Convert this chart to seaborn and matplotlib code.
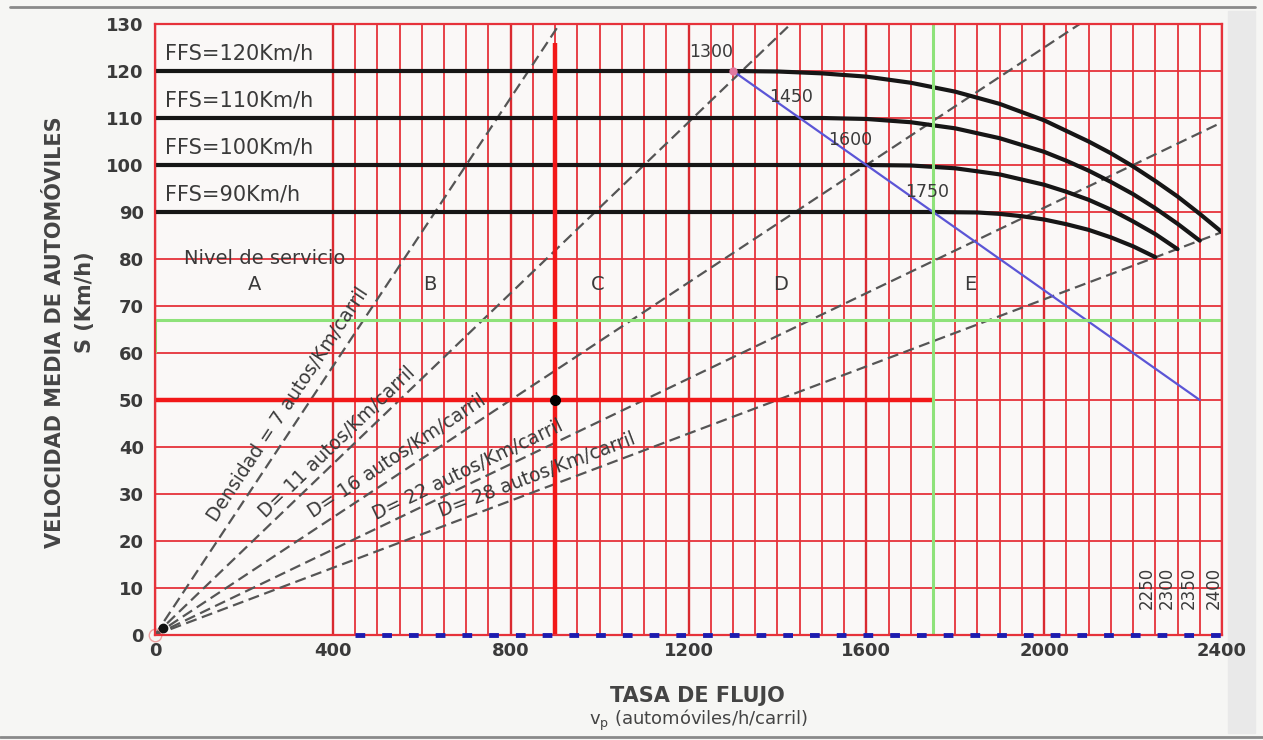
import numpy as np
import pandas as pd
import seaborn as sns
import matplotlib.pyplot as plt

# speed-flow curves (flow: autos/h/carril, speed: km/h)
flow_120 = [0, 1300, 1400, 1500, 1600, 1700, 1800, 1900, 2000, 2100, 2150, 2200, 2250, 2300, 2350, 2400]
speed_120 = [120, 120, 119.9, 119.5, 118.8, 117.5, 115.6, 113, 109.5, 105, 102.5, 99.7, 96.6, 93.3, 89.6, 85.7]
flow_110 = [0, 1450, 1500, 1600, 1700, 1800, 1900, 2000, 2050, 2100, 2150, 2200, 2250, 2300, 2350]
speed_110 = [110, 110, 110, 109.8, 109.1, 107.8, 105.7, 102.8, 100.9, 98.8, 96.4, 93.8, 90.8, 87.5, 83.9]
flow_100 = [0, 1600, 1700, 1800, 1900, 2000, 2050, 2100, 2150, 2200, 2250, 2300]
speed_100 = [100, 100, 99.9, 99.3, 98, 95.8, 94.3, 92.6, 90.5, 88, 85.3, 82.1]
flow_90 = [0, 1750, 1850, 1900, 1950, 2000, 2050, 2100, 2150, 2200, 2250]
speed_90 = [90, 90, 89.9, 89.6, 89.1, 88.4, 87.4, 86.2, 84.6, 82.7, 80.4]
ffs_values = [120, 110, 100, 90]
ffs_labels = ["FFS=120Km/h", "FFS=110Km/h", "FFS=100Km/h", "FFS=90Km/h"]

# breakpoint line (blue)
break_flow = [1300, 1450, 1600, 1750, 2350]
break_speed = [120, 110, 100, 90, 50]
break_labels = ["1300", "1450", "1600", "1750"]

# density lines
densities = [7, 11, 16, 22, 28]
density_labels = ["Densidad = 7 autos/Km/carril", "D= 11 autos/Km/carril",
                  "D= 16 autos/Km/carril", "D= 22 autos/Km/carril",
                  "D= 28 autos/Km/carril"]

los_labels = ["A", "B", "C", "D", "E"]
capacity_labels = ["2250", "2300", "2350", "2400"]

# marked point / guide lines
point_flow, point_speed, point_top = 900, 50, 126
green_flow, green_speed = 1750, 67
bottom_dash = [450, 2400]

x_ticks = [0, 400, 800, 1200, 1600, 2000, 2400]
y_ticks = list(range(0, 131, 10))
grid_x = list(range(400, 2401, 50))

df = pd.DataFrame({
    "flow": flow_120 + flow_110 + flow_100 + flow_90,
    "speed": speed_120 + speed_110 + speed_100 + speed_90,
    "ffs": [120] * len(flow_120) + [110] * len(flow_110)
           + [100] * len(flow_100) + [90] * len(flow_90),
})

sns.set_theme(style="white")
plt.rcParams['font.family'] = ['DejaVu Sans']

red = '#e6323a'
txt = '#3a3a3a'

fig = plt.figure(figsize=(12.63, 7.40), dpi=100)
fig.patch.set_facecolor('#f6f6f4')
ax = fig.add_axes([155 / 1263, 1 - 635 / 740, 1067 / 1263, 611 / 740])
ax.set_facecolor('#faf8f7')

ax.set_xlim(0, 2400)
ax.set_ylim(0, 130)
ax.set_xticks(x_ticks)
ax.set_yticks(y_ticks)
ax.set_xticks(grid_x, minor=True)
ax.grid(False)
ax.grid(True, which='minor', axis='x', color=red, lw=1.3)
ax.grid(True, which='major', axis='x', color='#d92a30', lw=1.7)
ax.grid(True, which='major', axis='y', color=red, lw=1.3)
ax.tick_params(which='both', length=0)
ax.tick_params(axis='y', pad=8, labelsize=13, labelcolor=txt)
ax.tick_params(axis='x', pad=5, labelsize=13, labelcolor=txt)
for lab in ax.get_xticklabels() + ax.get_yticklabels():
    lab.set_fontweight('bold')
for s in ax.spines.values():
    s.set_color(red)
    s.set_linewidth(1.6)

# density lines
for d in densities:
    ax.axline((0, 0), slope=1 / d, color='#555555', lw=1.6, dashes=(5, 2.5))

# FFS curves
sns.lineplot(data=df, x="flow", y="speed", hue="ffs", units="ffs", estimator=None,
             palette={120: '#161616', 110: '#161616', 100: '#161616', 90: '#161616'},
             lw=3, legend=False, ax=ax)

# breakpoint line
sns.lineplot(x=break_flow, y=break_speed, color='#5b55d6', lw=1.6, ax=ax)
ax.plot(break_flow[0], break_speed[0], 'o', ms=5, color='#e07aa0')
label_xy = [(1250, 124), (1430, 114.5), (1563, 105.3), (1736, 94.3)]
for (lx, ly), lab in zip(label_xy, break_labels):
    ax.text(lx, ly, lab, fontsize=12.5, color=txt, ha='center', va='center')

# red cross and green guides
ax.vlines(point_flow, 0, point_top, color='#f21818', lw=3.2)
ax.hlines(point_speed, 0, green_flow, color='#f21818', lw=3.2)
ax.plot(point_flow, point_speed, 'o', ms=7, color='black', zorder=5)
ax.axvline(green_flow, color='#8ee27a', lw=2.2)
ax.axhline(green_speed, color='#8ee27a', lw=2.2)
ax.vlines([0, 2400], 60, green_speed, color='#8ee27a', lw=2.2)

# dashed blue line along flow axis
ax.plot(bottom_dash, [0, 0], color='#1c1cb0', lw=3.5, dashes=(2, 3.5),
        clip_on=False, zorder=6)
ax.plot(0, 0, 'o', ms=9, mfc='none', mec='#f0a0a0', clip_on=False)
ax.plot(18, 1.5, 'o', ms=6, color='#111', clip_on=False)

# FFS labels
for v, lab in zip(ffs_values, ffs_labels):
    ax.text(22, v + 3.8, lab, fontsize=15, color=txt, va='center', ha='left')

# level of service
ax.text(247, 80, "Nivel de servicio", fontsize=14, color=txt, ha='center', va='center')
for lx, lab in zip([225, 618, 996, 1406, 1833], los_labels):
    ax.text(lx, 74.5, lab, fontsize=14, color=txt, ha='center', va='center')

# density labels along the lines
for (lx, ly), d, lab in zip([(299, 49), (409, 41), (544, 38), (704, 35), (859, 34)],
                            densities, density_labels):
    ax.text(lx, ly, lab, fontsize=13.5, color=txt, ha='center', va='center',
            rotation=np.degrees(np.arctan(1 / d)), transform_rotates_text=True,
            rotation_mode='anchor')

# capacity labels
for lx, lab in zip([2231, 2276, 2326, 2382], capacity_labels):
    ax.text(lx, 10, lab, fontsize=12, color=txt, rotation=90, ha='center', va='center')

# axis titles
ax.text(-0.0937, 0.495, "VELOCIDAD MEDIA DE AUTOMÓVILES", transform=ax.transAxes,
        rotation=90, fontsize=15, fontweight='bold', color='#444', ha='center', va='center')
ax.text(-0.0656, 0.545, "S (Km/h)", transform=ax.transAxes, rotation=90,
        fontsize=15, fontweight='bold', color='#444', ha='center', va='center')
ax.text(0.508, -0.10, "TASA DE FLUJO", transform=ax.transAxes, fontsize=15,
        fontweight='bold', color='#444', ha='center', va='center')
ax.text(0.509, -0.139, r"$\mathregular{v_p}$ (automóviles/h/carril)", transform=ax.transAxes,
        fontsize=13, color='#444', ha='center', va='center')
ax.set_xlabel('')
ax.set_ylabel('')

# scan frame
fig.add_artist(plt.Line2D([0.008, 0.994], [0.991, 0.991], color='#8a8a8a', lw=2,
                          transform=fig.transFigure))
fig.add_artist(plt.Line2D([0.0, 1.0], [0.004, 0.004], color='#8a8a8a', lw=2,
                          transform=fig.transFigure))
fig.add_artist(plt.Rectangle((0.972, 0.01), 0.022, 0.975, color='#e9e9e9',
                             transform=fig.transFigure, zorder=-1))

fig.savefig('out.png', dpi=100, facecolor=fig.get_facecolor())
